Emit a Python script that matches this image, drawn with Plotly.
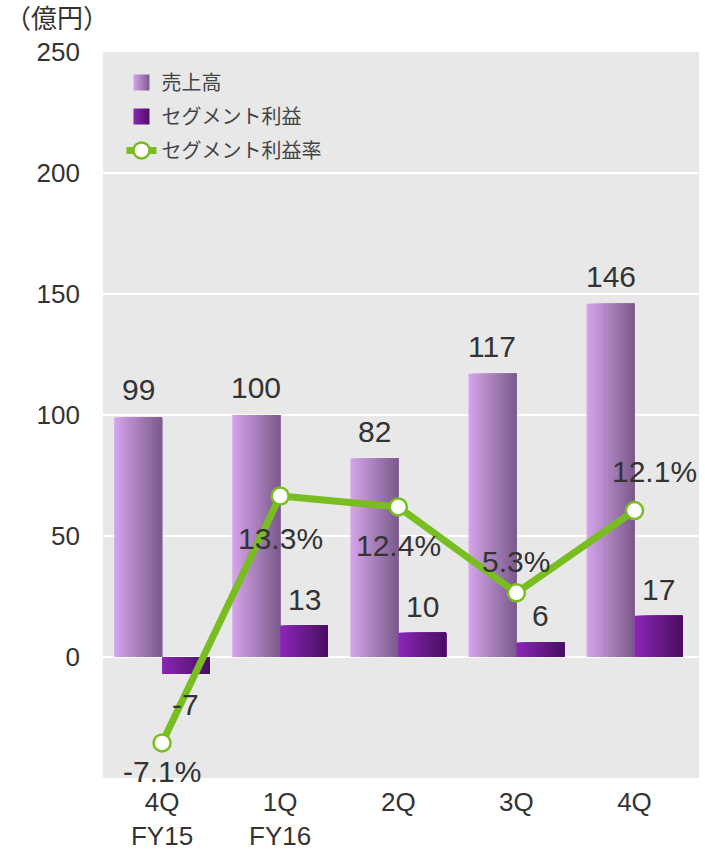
import plotly.graph_objects as go

# Quarterly figures (億円) and segment margin (%)
categories = ["4Q<br>FY15", "1Q<br>FY16", "2Q", "3Q", "4Q"]
sales = [99, 100, 82, 117, 146]
segment_profit = [-7, 13, 10, 6, 17]
margin_pct = [-7.1, 13.3, 12.4, 5.3, 12.1]
margin_labels = ["-7.1%", "13.3%", "12.4%", "5.3%", "12.1%"]

FONT = "Liberation Sans, Arial, Noto Sans CJK JP, sans-serif"
TEXT = "#333333"
GREEN = "#78be20"

BAR_W = 0.405      # width of one bar, in category units
N_STRIPS = 20      # overlapping layers used to fake a horizontal gradient


def lerp(c1, c2, t):
    a = [int(c1[i:i + 2], 16) for i in (1, 3, 5)]
    b = [int(c2[i:i + 2], 16) for i in (1, 3, 5)]
    return "rgb({},{},{})".format(*[round(a[j] + (b[j] - a[j]) * t) for j in range(3)])


def gradient_bars(fig, values, c_left, c_right, start, name, group):
    sw = BAR_W / N_STRIPS
    for k in range(N_STRIPS):
        t = k / (N_STRIPS - 1)
        # each layer runs from its own left edge to the bar's right edge
        fig.add_trace(go.Bar(
            x=categories, y=values,
            width=BAR_W - k * sw, offset=start + k * sw,
            marker=dict(color=lerp(c_left, c_right, t), line=dict(width=0)),
            showlegend=False, hoverinfo="skip", legendgroup=group,
        ))
    # legend entry: a square swatch with the same horizontal gradient
    fig.add_trace(go.Scatter(
        x=categories, y=[None] * len(categories), name=name, mode="markers",
        marker=dict(symbol="square", size=22, color=c_left,
                    gradient=dict(type="horizontal", color=c_right),
                    line=dict(width=0)),
        legendgroup=group, showlegend=True,
    ))


fig = go.Figure()
gradient_bars(fig, sales, "#d4a2ea", "#7c5c8c", -BAR_W, "売上高", "g1")
gradient_bars(fig, segment_profit, "#8a26b6", "#4a0f63", 0.0, "セグメント利益", "g2")

fig.add_trace(go.Scatter(
    x=categories, y=margin_pct, yaxis="y2", name="セグメント利益率",
    mode="lines+markers",
    line=dict(color=GREEN, width=7),
    marker=dict(size=17, color="white", line=dict(color=GREEN, width=2.5)),
    legendgroup="g3",
))

annotations = []
for i, v in enumerate(sales):
    annotations.append(dict(
        x=i - BAR_W / 2, y=v, xref="x", yref="y", text=str(v),
        showarrow=False, yanchor="bottom", yshift=9,
        font=dict(size=30, color=TEXT, family=FONT)))
for i, v in enumerate(segment_profit):
    annotations.append(dict(
        x=i + BAR_W / 2, y=v, xref="x", yref="y", text=str(v),
        showarrow=False, yanchor="top" if v < 0 else "bottom",
        yshift=-12 if v < 0 else 8,
        font=dict(size=30, color=TEXT, family=FONT)))

label_shift = [(0, -29), (0, -42), (0, -39), (0, 31), (20, 39)]
for i, (v, s) in enumerate(zip(margin_pct, margin_labels)):
    dx, dy = label_shift[i]
    annotations.append(dict(
        x=i, y=v, xref="x", yref="y2", text=s, showarrow=False,
        yanchor="middle", xshift=dx, yshift=dy,
        font=dict(size=30, color=TEXT, family=FONT)))

annotations.append(dict(
    x=-0.168, y=1.046, xref="paper", yref="paper", text="（億円）",
    showarrow=False, xanchor="left", yanchor="middle",
    font=dict(size=26, color=TEXT, family=FONT)))

fig.update_layout(
    width=705, height=851,
    margin=dict(l=103, r=6, t=52, b=73, autoexpand=False),
    paper_bgcolor="white", plot_bgcolor="#e8e8e8",
    barmode="overlay",
    font=dict(family=FONT, color=TEXT),
    showlegend=True,
    legend=dict(
        x=0.031, y=0.985, xanchor="left", yanchor="top",
        bgcolor="rgba(0,0,0,0)", font=dict(size=20, color="#444444", family=FONT),
        traceorder="grouped", tracegroupgap=5, itemsizing="trace",
    ),
    xaxis=dict(
        type="category", showgrid=False, zeroline=False, showline=False,
        tickfont=dict(size=26, color=TEXT, family=FONT),
        ticks="", ticklabelstandoff=6, fixedrange=True, automargin=False,
    ),
    yaxis=dict(
        range=[-50, 250], tickvals=[0, 50, 100, 150, 200, 250],
        showgrid=True, gridcolor="white", gridwidth=2, zeroline=False,
        showline=False, ticks="", automargin=False,
        tickfont=dict(size=26, color=TEXT, family=FONT),
        ticklabelstandoff=22,
    ),
    yaxis2=dict(
        range=[-10, 50], overlaying="y", side="right", visible=False,
        showgrid=False, zeroline=False,
    ),
    annotations=annotations,
)

fig.write_html("out.html")
